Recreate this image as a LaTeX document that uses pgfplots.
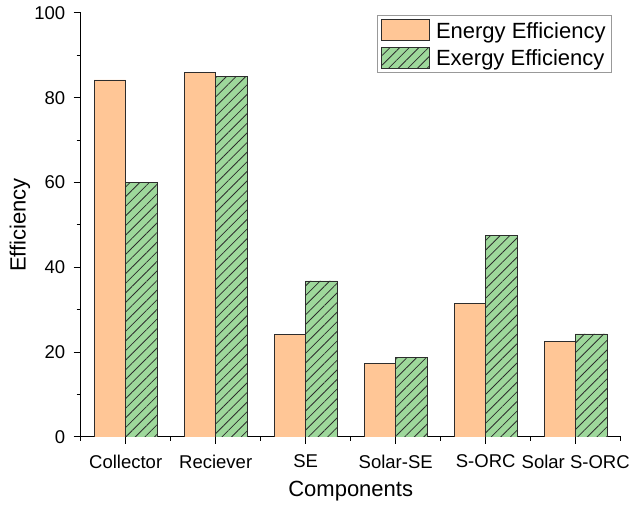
\documentclass[border=0pt]{standalone}
\usepackage{fontspec}
\setmainfont{Liberation Sans}
\usepackage{pgfplots}
\pgfplotsset{compat=1.18}
\usetikzlibrary{patterns.meta}

\definecolor{energyfill}{RGB}{255,198,150}
\definecolor{exergyfill}{RGB}{158,216,155}
\definecolor{baredge}{RGB}{45,45,45}

\begin{document}
\begin{tikzpicture}
% page frame: the axis box sits at (0,0)-(540pt,424pt)
\useasboundingbox (-80.7pt,-68pt) rectangle (549.3pt,437pt);
\begin{axis}[
  width=540pt, height=424pt,
  scale only axis,
  xmin=-0.5, xmax=5.5,
  ymin=0, ymax=100,
  axis x line*=bottom,
  axis y line*=left,
  axis line style={line width=1pt, black},
  tick align=outside,
  major tick length=7pt,
  minor tick length=4pt,
  every tick/.style={black, line width=1pt},
  xtick={0,1,2,3,4,5},
  xticklabels={Collector,Reciever,SE,Solar-SE,S-ORC,Solar S-ORC},
  minor xtick={-0.5,0.5,1.5,2.5,3.5,4.5,5.5},
  ytick={0,20,40,60,80,100},
  minor ytick={10,30,50,70,90},
  tick label style={font=\fontsize{18.5}{21}\selectfont},
  xticklabel style={yshift=-7.5pt},
  yticklabel style={xshift=-5pt},
  /pgf/number format/assume math mode=true,
  xlabel={Components},
  ylabel={Efficiency},
  every axis x label/.style={at={([yshift=-54pt]axis description cs:0.5,0)},
    anchor=center, font=\fontsize{22}{26}\selectfont},
  every axis y label/.style={at={([xshift=-60.7pt]axis description cs:0,0.5)},
    anchor=center, rotate=90, font=\fontsize{22}{26}\selectfont},
  legend style={
    at={(1,1)}, anchor=north east, xshift=-8.7pt, yshift=-2pt,
    draw=gray!80, line width=0.8pt,
    font=\fontsize{22}{26}\selectfont,
    inner xsep=4pt, inner ysep=4pt, row sep=5pt,
    cells={anchor=west},
  },
  legend image code/.code={
    \draw[#1] (0pt,-10pt) rectangle (48pt,11pt);
  },
  legend cell align=left,
]
\addplot[ybar, bar width=0.35, bar shift=-0.175,
  fill=energyfill, draw=baredge, line width=0.9pt]
  coordinates {(0,84.2) (1,86.0) (2,24.2) (3,17.4) (4,31.4) (5,22.5)};
\addlegendentry{\hspace{4pt}Energy Efficiency}
\addplot[ybar, bar width=0.35, bar shift=0.175,
  fill=exergyfill, draw=baredge, line width=0.9pt,
  postaction={pattern={Lines[angle=45,distance=6.8pt,line width=0.8pt]}, pattern color=baredge}]
  coordinates {(0,60.0) (1,85.1) (2,36.8) (3,18.8) (4,47.5) (5,24.3)};
\addlegendentry{\hspace{4pt}Exergy Efficiency}
\end{axis}
\end{tikzpicture}
\end{document}
